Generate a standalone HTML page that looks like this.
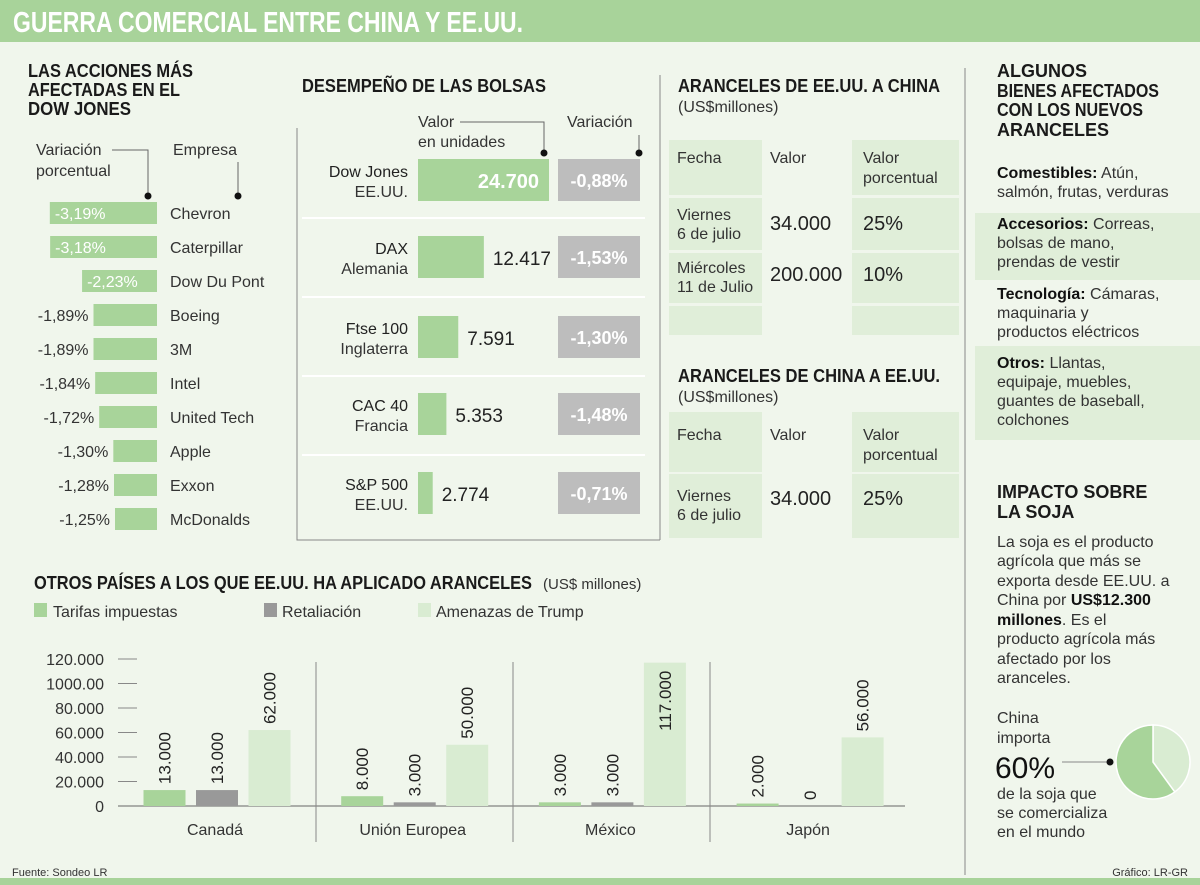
<!DOCTYPE html>
<html><head><meta charset="utf-8"><style>
body{margin:0;background:#f0f6ec}
svg{display:block;font-family:"Liberation Sans",sans-serif}
</style></head><body>
<svg id="s" width="1200" height="885" viewBox="0 0 1200 885">
<rect width="1200" height="885" fill="#f0f6ec"/>
<rect width="1200" height="42" fill="#a8d39a"/>
<text x="13" y="32" font-size="29" font-weight="bold" fill="#fff" textLength="510" lengthAdjust="spacingAndGlyphs">GUERRA COMERCIAL ENTRE CHINA Y EE.UU.</text>
<rect y="878" width="1200" height="7" fill="#a8d39a"/>

<g font-weight="bold" font-size="18" fill="#1a1a1a">
<text x="28" y="77" textLength="165" lengthAdjust="spacingAndGlyphs">LAS ACCIONES MÁS</text>
<text x="28" y="96" textLength="152" lengthAdjust="spacingAndGlyphs">AFECTADAS EN EL</text>
<text x="28" y="115" textLength="103" lengthAdjust="spacingAndGlyphs">DOW JONES</text>
</g>
<g font-size="16" fill="#333">
<text x="36" y="155">Variación</text>
<text x="36" y="176">porcentual</text>
<text x="173" y="155">Empresa</text>
</g>
<path d="M112 150H148V196M238 162V196" stroke="#666" fill="none"/>
<circle cx="148" cy="196" r="3.5" fill="#111"/><circle cx="238" cy="196" r="3.5" fill="#111"/>
<g id="stocks"></g>

<text x="302" y="92" font-size="18" font-weight="bold" fill="#1a1a1a" textLength="244" lengthAdjust="spacingAndGlyphs">DESEMPEÑO DE LAS BOLSAS</text>
<g font-size="16" fill="#333">
<text x="418" y="127">Valor</text><text x="418" y="147">en unidades</text>
<text x="567" y="127">Variación</text>
</g>
<path d="M460 122H544V152M639 135V152" stroke="#666" fill="none"/>
<circle cx="544" cy="153" r="3.5" fill="#111"/><circle cx="639" cy="153" r="3.5" fill="#111"/>
<path d="M297 128V540H660M660 75V540" stroke="#888" fill="none"/>
<g id="markets"></g>

<g>
<text x="678" y="92" font-size="18" font-weight="bold" fill="#1a1a1a" textLength="262" lengthAdjust="spacingAndGlyphs">ARANCELES DE EE.UU. A CHINA</text>
<text x="678" y="112" font-size="16" fill="#333">(US$millones)</text>
<g fill="#e0eed9">
<rect x="669" y="140" width="93" height="55"/><rect x="852" y="140" width="107" height="55"/>
<rect x="669" y="198" width="93" height="52"/><rect x="852" y="198" width="107" height="52"/>
<rect x="669" y="253" width="93" height="50"/><rect x="852" y="253" width="107" height="50"/>
<rect x="669" y="306" width="93" height="29"/><rect x="852" y="306" width="107" height="29"/>
</g>
<g font-size="16" fill="#333">
<text x="677" y="163">Fecha</text><text x="770" y="163">Valor</text><text x="863" y="163">Valor</text><text x="863" y="183">porcentual</text>
<text x="677" y="220">Viernes</text><text x="677" y="239">6 de julio</text>
<text x="677" y="273">Miércoles</text><text x="677" y="292">11 de Julio</text>
</g>
<g font-size="20" fill="#222">
<text x="770" y="230">34.000</text><text x="863" y="230">25%</text>
<text x="770" y="281">200.000</text><text x="863" y="281">10%</text>
</g>
</g>
<g>
<text x="678" y="382" font-size="18" font-weight="bold" fill="#1a1a1a" textLength="262" lengthAdjust="spacingAndGlyphs">ARANCELES DE CHINA A EE.UU.</text>
<text x="678" y="402" font-size="16" fill="#333">(US$millones)</text>
<g fill="#e0eed9">
<rect x="669" y="412" width="93" height="60"/><rect x="852" y="412" width="107" height="60"/>
<rect x="669" y="474" width="93" height="64"/><rect x="852" y="474" width="107" height="64"/>
</g>
<g font-size="16" fill="#333">
<text x="677" y="440">Fecha</text><text x="770" y="440">Valor</text><text x="863" y="440">Valor</text><text x="863" y="460">porcentual</text>
<text x="677" y="501">Viernes</text><text x="677" y="520">6 de julio</text>
</g>
<g font-size="20" fill="#222"><text x="770" y="505">34.000</text><text x="863" y="505">25%</text></g>
</g>

<line x1="965" y1="68" x2="965" y2="875" stroke="#888"/>
<g font-weight="bold" font-size="18" fill="#1a1a1a">
<text x="997" y="77">ALGUNOS</text>
<text x="997" y="97" textLength="162" lengthAdjust="spacingAndGlyphs">BIENES AFECTADOS</text>
<text x="997" y="116" textLength="146" lengthAdjust="spacingAndGlyphs">CON LOS NUEVOS</text>
<text x="997" y="136">ARANCELES</text>
</g>
<rect x="975" y="213" width="225" height="67" fill="#e0eed9"/>
<rect x="975" y="346" width="225" height="94" fill="#e0eed9"/>
<g font-size="16" fill="#333">
<text x="997" y="178"><tspan font-weight="bold" fill="#111">Comestibles:</tspan> Atún,</text>
<text x="997" y="197">salmón, frutas, verduras</text>
<text x="997" y="229"><tspan font-weight="bold" fill="#111">Accesorios:</tspan> Correas,</text>
<text x="997" y="248">bolsas de mano,</text><text x="997" y="267">prendas de vestir</text>
<text x="997" y="299"><tspan font-weight="bold" fill="#111">Tecnología:</tspan> Cámaras,</text>
<text x="997" y="318">maquinaria y</text><text x="997" y="337">productos eléctricos</text>
<text x="997" y="368"><tspan font-weight="bold" fill="#111">Otros:</tspan> Llantas,</text>
<text x="997" y="387">equipaje, muebles,</text><text x="997" y="406">guantes de baseball,</text><text x="997" y="425">colchones</text>
</g>
<g font-weight="bold" font-size="18" fill="#1a1a1a">
<text x="997" y="498">IMPACTO SOBRE</text><text x="997" y="518">LA SOJA</text>
</g>
<g font-size="16" fill="#333">
<text x="997" y="547">La soja es el producto</text>
<text x="997" y="566">agrícola que más se</text>
<text x="997" y="586">exporta desde EE.UU. a</text>
<text x="997" y="605">China por <tspan font-weight="bold" fill="#111">US$12.300</tspan></text>
<text x="997" y="625"><tspan font-weight="bold" fill="#111">millones</tspan>. Es el</text>
<text x="997" y="644">producto agrícola más</text>
<text x="997" y="664">afectado por los</text>
<text x="997" y="683">aranceles.</text>
<text x="997" y="723">China</text><text x="997" y="743">importa</text>
<text x="995" y="778" font-size="30" fill="#111">60%</text>
<text x="997" y="799">de la soja que</text><text x="997" y="818">se comercializa</text><text x="997" y="837">en el mundo</text>
</g>
<line x1="1062" y1="762" x2="1110" y2="762" stroke="#888"/><circle cx="1110" cy="762" r="3.5" fill="#111"/>
<g id="pie"></g>

<g>
<text x="34" y="589" font-size="18" font-weight="bold" fill="#1a1a1a" textLength="498" lengthAdjust="spacingAndGlyphs">OTROS PAÍSES A LOS QUE EE.UU. HA APLICADO ARANCELES</text>
<text x="543" y="589" font-size="15" fill="#333">(US$ millones)</text>
<g font-size="16" fill="#333">
<rect x="34" y="603" width="13" height="14" fill="#a8d49a"/><text x="53" y="617">Tarifas impuestas</text>
<rect x="264" y="603" width="13" height="14" fill="#999"/><text x="282" y="617">Retaliación</text>
<rect x="418" y="603" width="13" height="14" fill="#d9ecd2"/><text x="436" y="617">Amenazas de Trump</text>
</g>
<g id="bars"></g>
</g>
<text x="12" y="876" font-size="11" fill="#333">Fuente: Sondeo LR</text>
<text x="1188" y="876" font-size="11" fill="#333" text-anchor="end">Gráfico: LR-GR</text>
</svg>
<script>
const NS="http://www.w3.org/2000/svg";
function mk(p,t,a,txt){const e=document.createElementNS(NS,t);for(const k in a)e.setAttribute(k,a[k]);if(txt!==undefined)e.textContent=txt;p.appendChild(e);return e;}

const stockNames=["Chevron","Caterpillar","Dow Du Pont","Boeing","3M","Intel","United Tech","Apple","Exxon","McDonalds"];
const stockValues=[-3.19,-3.18,-2.23,-1.89,-1.89,-1.84,-1.72,-1.30,-1.28,-1.25];
const marketNames=["Dow Jones","DAX","Ftse 100","CAC 40","S&P 500"];
const marketCountries=["EE.UU.","Alemania","Inglaterra","Francia","EE.UU."];
const marketValues=[24700,12417,7591,5353,2774];
const marketVariation=[-0.88,-1.53,-1.30,-1.48,-0.71];
const countries=["Canadá","Unión Europea","México","Japón"];
const tarifas=[13000,8000,3000,2000];
const retaliacion=[13000,3000,3000,0];
const amenazas=[62000,50000,117000,56000];
const yTicks=[0,20000,40000,60000,80000,100000,120000];
const yTickLabels=["0","20.000","40.000","60.000","80.000","1000.00","120.000"];
const soyShare=[60,40];

const fmtPct=v=>v.toFixed(2).replace(".",",")+"%";
const fmtNum=v=>v.toLocaleString("de-DE");

const sg=document.getElementById("stocks");
const sx=v=>157+v*33.6;
stockValues.forEach((v,i)=>{
  const cy=213+i*34, x0=sx(v);
  const r=mk(sg,"rect",{x:x0,y:cy-11,width:157-x0,height:22,fill:"#a8d49a"});
  
  
  const inside=v<-2;
  const t=mk(sg,"text",{x:inside?x0+5:x0-5,y:cy+6,"font-size":16,fill:inside?"#fff":"#333","text-anchor":inside?"start":"end"},fmtPct(v));
  
  
  const n=mk(sg,"text",{x:170,y:cy+6,"font-size":16,fill:"#333"},stockNames[i]);
  
  
});

const mg=document.getElementById("markets");
const mw=v=>v*131/24700;
[218,297,376,455].forEach(y=>mk(mg,"line",{x1:302,x2:645,y1:y,y2:y,stroke:"#fff","stroke-width":2}));
marketValues.forEach((v,i)=>{
  const cy=[180,257,337,414,493][i];
  const w=mw(v);
  const b=mk(mg,"rect",{x:418,y:cy-21,width:w,height:42,fill:"#a8d49a"});
  
  
  const first=i===0;
  const t=mk(mg,"text",{x:first?418+w-10:418+w+9,y:cy+8,"font-size":first?20:19,"font-weight":first?"bold":"normal",fill:first?"#fff":"#222","text-anchor":first?"end":"start"},fmtNum(v));
  
  
  const g=mk(mg,"rect",{x:558,y:cy-21,width:82,height:42,fill:"#bdbdbd"});
  
  
  const vt=mk(mg,"text",{x:599,y:cy+7,"font-size":18,"font-weight":"bold",fill:"#fff","text-anchor":"middle"},fmtPct(marketVariation[i]));
  
  
  mk(mg,"text",{x:408,y:cy-3,"font-size":16,fill:"#222","text-anchor":"end"},marketNames[i]);
  mk(mg,"text",{x:408,y:cy+17,"font-size":16,fill:"#333","text-anchor":"end"},marketCountries[i]);
});

const pg=document.getElementById("pie");
const pcx=1153,pcy=762,pr=37;let ang=-Math.PI/2;
const tot=soyShare.reduce((a,b)=>a+b,0);
[[soyShare[1],"#d9ecd2"],[soyShare[0],"#a8d49a"]].forEach(([v,c])=>{
  const a2=ang+v/tot*2*Math.PI;
  const large=(a2-ang)>Math.PI?1:0;
  const p=mk(pg,"path",{d:`M${pcx} ${pcy}L${pcx+pr*Math.cos(ang)} ${pcy+pr*Math.sin(ang)}A${pr} ${pr} 0 ${large} 1 ${pcx+pr*Math.cos(a2)} ${pcy+pr*Math.sin(a2)}Z`,fill:c,stroke:"#fff","stroke-width":1.5});
  
  
  ang=a2;
});

const bg=document.getElementById("bars");
const y0=806, yScale=147/120000;
const y=v=>y0-v*yScale;
yTicks.forEach((t,i)=>{
  mk(bg,"line",{x1:118,x2:137,y1:y(t),y2:y(t),stroke:"#888"});
  const l=mk(bg,"text",{x:104,y:y(t)+6,"font-size":16,fill:"#333","text-anchor":"end"},yTickLabels[i]);
  
  
});
mk(bg,"line",{x1:118,x2:905,y1:y0,y2:y0,stroke:"#666"});
const gx=i=>217+i*197.7;
[316,513,710].forEach(x=>mk(bg,"line",{x1:x,x2:x,y1:662,y2:842,stroke:"#888"}));
const series=[[tarifas,"#a8d49a"],[retaliacion,"#999"],[amenazas,"#d9ecd2"]];
countries.forEach((c,i)=>{
  series.forEach(([arr,col],j)=>{
    const v=arr[i], cx=gx(i)+(j-1)*52.5;
    const r=mk(bg,"rect",{x:cx-21,y:y(v),width:42,height:v*yScale,fill:col});
    
    
    const labelLen=fmtNum(v).length*9.5;
    const inside=y(v)-6-labelLen<650;
    const anchor=inside?"end":"start";
    const ty=inside?y(v)+8:y(v)-6;
    const t=mk(bg,"text",{x:0,y:0,"font-size":17,fill:"#222","text-anchor":anchor,transform:`translate(${cx+6},${ty}) rotate(-90)`},fmtNum(v));
    
    
  });
  const l=mk(bg,"text",{x:gx(i)-2,y:835,"font-size":16,fill:"#333","text-anchor":"middle"},c);
  
  
});
</script>
</body></html>
